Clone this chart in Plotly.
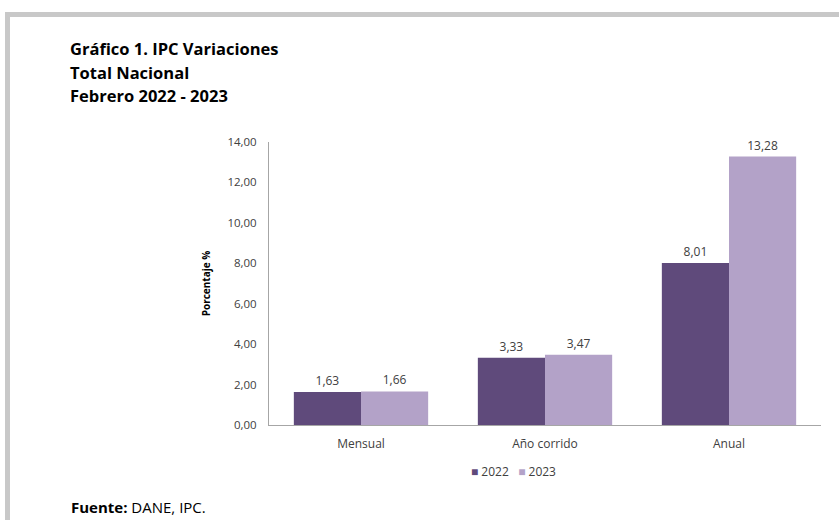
import plotly.graph_objects as go

categories = ["Mensual", "Año corrido", "Anual"]
series_names = ["2022", "2023"]
values_2022 = [1.63, 3.33, 8.01]
values_2023 = [1.66, 3.47, 13.28]
y_ticks = [0, 2, 4, 6, 8, 10, 12, 14]
y_tick_labels = ["0,00", "2,00", "4,00", "6,00", "8,00", "10,00", "12,00", "14,00"]

colors = ["#5f4a7b", "#b3a2c8"]

W, H = 839, 520
L, R, T, B = 269, 18, 142, 95
pw, ph = W - L - R, H - T - B

def px(x):
    return (x - L) / pw

def py(y):
    return (H - B - y) / ph

def fmt(v):
    return f"{v:.2f}".replace(".", ",")

fig = go.Figure()
for name, vals, c in zip(series_names, [values_2022, values_2023], colors):
    fig.add_trace(go.Bar(
        x=categories, y=vals, name=name, marker=dict(color=c, line=dict(width=0)),
        text=[fmt(v) for v in vals], textposition="outside",
        textfont=dict(size=12, color="#404040", family="Open Sans"),
        cliponaxis=False, showlegend=False,
    ))

fig.update_layout(
    width=W, height=H,
    margin=dict(l=L, r=R, t=T, b=B),
    paper_bgcolor="white", plot_bgcolor="white",
    barmode="group", bargap=0.27, bargroupgap=0,
    font=dict(family="Open Sans", color="#404040"),
    showlegend=False,
    xaxis=dict(showline=True, linecolor="#a6a6a6", linewidth=1, ticks="",
               ticklabelstandoff=8,
               tickfont=dict(size=12, color="#404040"), showgrid=False),
    yaxis=dict(range=[0, 14], tickvals=y_ticks, ticktext=y_tick_labels,
               showline=True, linecolor="#a6a6a6", linewidth=1, ticks="", showgrid=False,
               ticklabelstandoff=9,
               zeroline=False, tickfont=dict(size=11.5, color="#404040"),
               title=dict(text="<b>Porcentaje %</b>", font=dict(size=10, color="#000000"), standoff=14)),
)

# Legend built from series names and colours
legend_text = "   ".join(
    f"<span style='color:{c}'>■</span> {n}" for n, c in zip(series_names, colors)
)
fig.add_annotation(text=legend_text, xref="paper", yref="paper",
                   x=px(513), y=py(471), xanchor="center", yanchor="middle",
                   showarrow=False, font=dict(size=12, color="#404040", family="Open Sans"))

# Titles
title_lines = ["Gráfico 1. IPC Variaciones", "Total Nacional", "Febrero 2022 - 2023"]
for i, t in enumerate(title_lines):
    fig.add_annotation(text=f"<b>{t}</b>", xref="paper", yref="paper",
                       x=px(68), y=py(48 + 24 * i), xanchor="left", yanchor="middle",
                       showarrow=False, font=dict(size=16.5, color="#000000", family="Open Sans"))

fig.add_annotation(text="<b>Fuente:</b> DANE, IPC.", xref="paper", yref="paper",
                   x=px(69), y=py(507), xanchor="left", yanchor="middle",
                   showarrow=False, font=dict(size=15, color="#000000", family="Open Sans"))

# Gray frame
fig.add_shape(type="rect", xref="paper", yref="paper", x0=px(5), x1=px(839), y0=py(12), y1=py(17),
              fillcolor="#c8c8c8", line=dict(width=0), layer="below")
fig.add_shape(type="rect", xref="paper", yref="paper", x0=px(5), x1=px(10), y0=py(12), y1=py(520),
              fillcolor="#c8c8c8", line=dict(width=0), layer="below")

fig.write_html("out.html", config={"displayModeBar": False},
               post_script="document.body.style.margin='0';")
